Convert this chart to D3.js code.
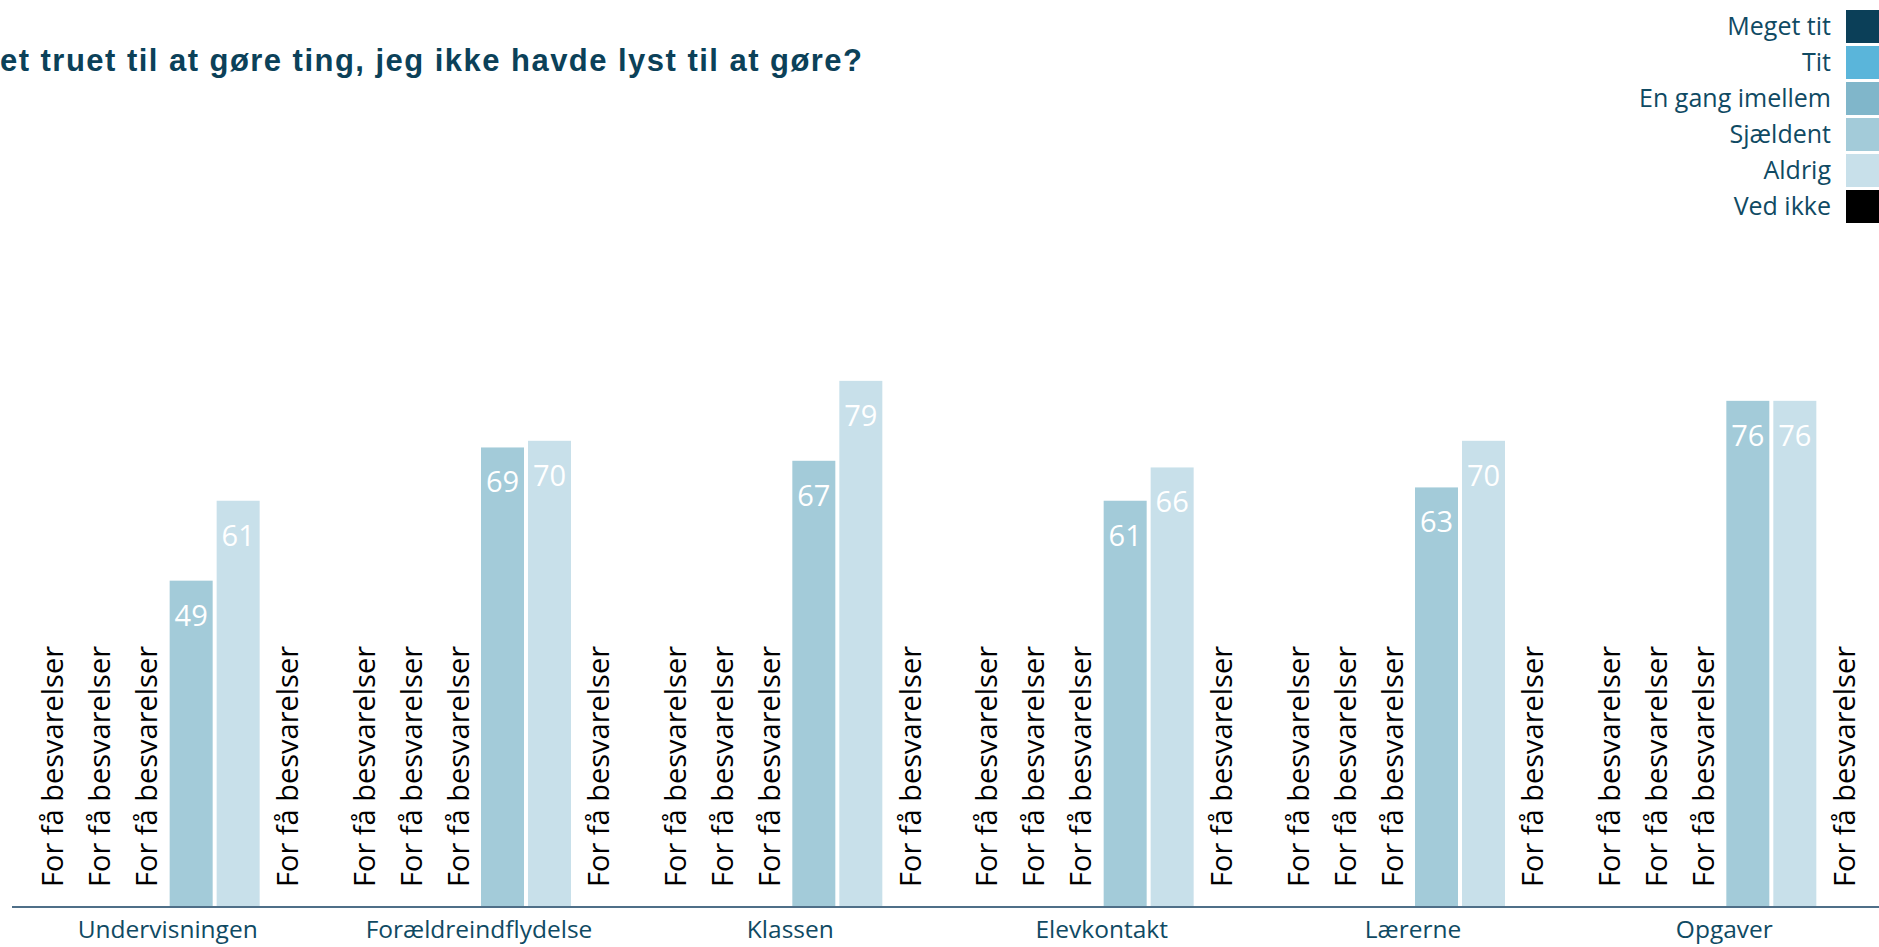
<!DOCTYPE html>
<html>
<head>
<meta charset="utf-8">
<script src="https://cdn.jsdelivr.net/npm/d3@7"></script>
<style>
  html, body { margin: 0; padding: 0; background: #fff; overflow: hidden; }
  svg { display: block; }
</style>
</head>
<body>
<svg id="chart" width="1879" height="947"></svg>
<script>
// Survey answers per area, shares in percent (null = too few answers)
const groups = ["Undervisningen", "Forældreindflydelse", "Klassen", "Elevkontakt", "Lærerne", "Opgaver"];
const seriesNames = ["Meget tit", "Tit", "En gang imellem", "Sjældent", "Aldrig", "Ved ikke"];
const megetTit = [null, null, null, null, null, null];
const tit = [null, null, null, null, null, null];
const enGangImellem = [null, null, null, null, null, null];
const sjaeldent = [49, 69, 67, 61, 63, 76];
const aldrig = [61, 70, 79, 66, 70, 76];
const vedIkke = [null, null, null, null, null, null];
const seriesColors = ["#0b3f58", "#5ab5da", "#80b6ca", "#a3cbd9", "#c8e0ea", "#000000"];
const titleText = "et truet til at gøre ting, jeg ikke havde lyst til at gøre?";
const missingText = "For få besvarelser";

const seriesValues = [megetTit, tit, enGangImellem, sjaeldent, aldrig, vedIkke];

const svg = d3.select("#chart");
const W = 1879;
const baseY = 907;

const labelFont = "'Open Sans', 'Noto Sans', sans-serif";
const textColor = "#0f4a63";

// Scales
const x0 = d3.scaleBand().domain(groups).range([12, 1880]);
const x1 = d3.scaleBand().domain(seriesNames).range([0, x0.bandwidth()])
  .paddingInner(0.085).paddingOuter(0.355);
const y = d3.scaleLinear().domain([0, 100]).range([baseY, 241]);

// Title
svg.append("text")
  .attr("x", 0).attr("y", 71)
  .attr("font-family", "'Liberation Sans', Arial, sans-serif")
  .attr("font-weight", "bold")
  .attr("font-size", 31)
  .attr("textLength", 862)
  .attr("lengthAdjust", "spacing")
  .attr("fill", "#0b4159")
  .text(titleText);

// Bars and labels
const cells = [];
groups.forEach((g, gi) => {
  seriesNames.forEach((s, si) => {
    cells.push({ group: g, series: s, si, value: seriesValues[si][gi] });
  });
});

const gGroups = svg.append("g");
const cell = gGroups.selectAll("g.cell").data(cells).join("g")
  .attr("class", "cell")
  .attr("transform", d => `translate(${x0(d.group) + x1(d.series)},0)`);

cell.filter(d => d.value != null).append("rect")
  .attr("x", 0)
  .attr("y", d => y(d.value))
  .attr("width", x1.bandwidth())
  .attr("height", d => baseY - y(d.value))
  .attr("fill", d => seriesColors[d.si]);

cell.filter(d => d.value != null).append("text")
  .attr("x", x1.bandwidth() / 2)
  .attr("y", d => y(d.value) + 45)
  .attr("text-anchor", "middle")
  .attr("font-family", labelFont)
  .attr("font-size", 29)
  .attr("fill", "#ffffff")
  .text(d => d.value);

cell.filter(d => d.value == null).append("text")
  .attr("transform", `translate(${x1.bandwidth() / 2 + 13},${baseY - 20}) rotate(-90)`)
  .attr("text-anchor", "start")
  .attr("font-family", labelFont)
  .attr("font-size", 29)
  .attr("fill", "#000000")
  .text(missingText);

// Category axis
const xAxis = svg.append("g")
  .attr("transform", `translate(0,${baseY})`)
  .call(d3.axisBottom(x0).tickSize(0).tickPadding(14));
xAxis.select(".domain")
  .attr("d", `M12,0H${W}`)
  .attr("stroke", "#4f6f88")
  .attr("stroke-width", 2);
xAxis.selectAll(".tick text")
  .attr("font-family", labelFont)
  .attr("font-size", 24.5)
  .attr("fill", textColor)
  .attr("dy", "0.68em");

// Legend
const legend = svg.append("g");
const leg = legend.selectAll("g").data(seriesNames).join("g")
  .attr("transform", (d, i) => `translate(0,${10 + i * 36})`);
leg.append("rect")
  .attr("x", 1846).attr("y", 0)
  .attr("width", 34).attr("height", 33)
  .attr("fill", (d, i) => seriesColors[i]);
leg.append("text")
  .attr("x", 1831).attr("y", 25)
  .attr("text-anchor", "end")
  .attr("font-family", labelFont)
  .attr("font-size", 25)
  .attr("fill", textColor)
  .text(d => d);
</script>
</body>
</html>
